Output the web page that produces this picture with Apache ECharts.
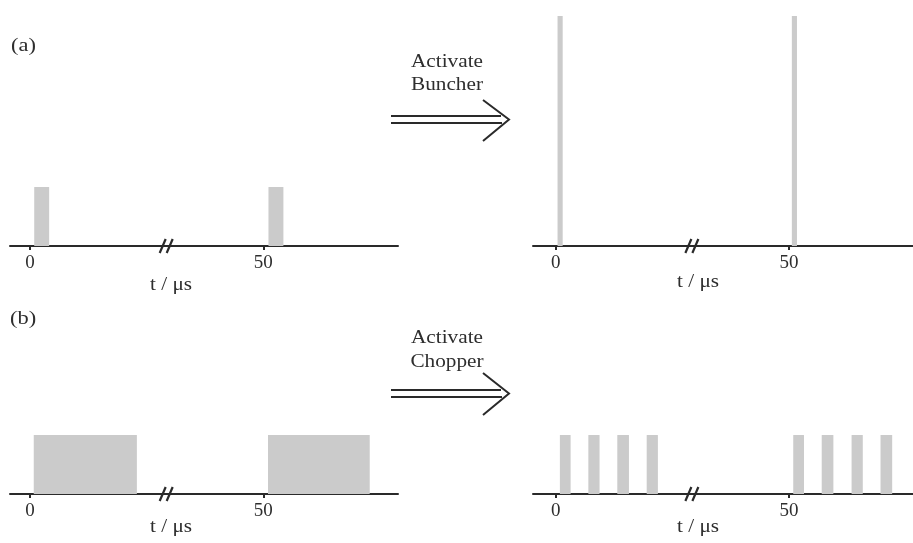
<!DOCTYPE html>
<html>
<head>
<meta charset="utf-8">
<script src="https://cdn.jsdelivr.net/npm/echarts@6/dist/echarts.min.js"></script>
<style>
html,body{margin:0;padding:0;background:#fff;}
#chart{width:913px;height:543px;}
</style>
</head>
<body>
<div id="chart"></div>
<script>
// ---- data ----
// pulses: [start time (µs), end time (µs), relative intensity]
const pulsesA_before = [[0.9, 4.1, 1.0], [51.1, 54.3, 1.0]];
const pulsesA_after  = [[0.4, 1.5, 3.9], [50.6, 51.7, 3.9]];
const pulsesB_before = [[0.8, 22.9, 1.0], [51.0, 72.8, 1.0]];
const pulsesB_after  = [[0.9, 3.2, 1.0], [7.0, 9.4, 1.0], [13.2, 15.7, 1.0], [19.5, 21.9, 1.0],
                        [50.9, 53.2, 1.0], [57.0, 59.5, 1.0], [63.4, 65.8, 1.0], [69.6, 72.1, 1.0]];
const tickValues = [0, 50];
const tickLabels = ['0', '50'];
const axisBreakAt = [29.5];
const axisTitle = 't / μs';
const panelLabels = ['(a)', '(b)'];
const actionLabels = [['Activate', 'Buncher'], ['Activate', 'Chopper']];

// ---- layout ----
const FONT = 'Liberation Serif, Times New Roman, serif';
const TXT = '#2e2e2e';
const AX = '#2a2a2a';
const BAR = '#cbcbcb';
const SX = 1.18;

const grids = [
  {left: 10,  width: 388, top: 16,  height: 230, xmin: -4.29, xmax: 78.86},
  {left: 533, width: 380, top: 16,  height: 230, xmin: -4.86, xmax: 76.56},
  {left: 10,  width: 388, top: 264, height: 230, xmin: -4.29, xmax: 78.86},
  {left: 533, width: 380, top: 264, height: 230, xmin: -4.86, xmax: 76.56}
];
const panelData = [pulsesA_before, pulsesA_after, pulsesB_before, pulsesB_after];

function pulseItem(params, api) {
  const p0 = api.coord([api.value(0), api.value(2)]);
  const p1 = api.coord([api.value(1), 0]);
  return {
    type: 'rect',
    shape: {x: p0[0], y: p0[1], width: p1[0] - p0[0], height: p1[1] - p0[1]},
    style: {fill: BAR}
  };
}
function breakItem(params, api) {
  const p = api.coord([api.value(0), 0]);
  const x = p[0], y = p[1];
  return {
    type: 'group',
    children: [
      {type: 'line', shape: {x1: x - 8, y1: y + 7, x2: x - 2, y2: y - 7}, style: {stroke: AX, lineWidth: 2.2}},
      {type: 'line', shape: {x1: x - 1, y1: y + 7, x2: x + 5, y2: y - 7}, style: {stroke: AX, lineWidth: 2.2}}
    ]
  };
}

function txt(text, x, y, size, align) {
  return {type: 'text', x: x, y: y, scaleX: SX,
    style: {text: text, font: size + 'px ' + FONT, fill: TXT, align: align || 'center', verticalAlign: 'middle'}};
}

const option = {
  backgroundColor: '#fff',
  animation: false,
  grid: grids.map(g => ({left: g.left, width: g.width, top: g.top, height: g.height, containLabel: false})),
  xAxis: grids.map((g, i) => ({
    gridIndex: i, type: 'value', min: g.xmin, max: g.xmax,
    splitLine: {show: false},
    axisLine: {show: true, onZero: true, lineStyle: {color: AX, width: 2}},
    axisTick: {show: true, customValues: tickValues, length: 4, inside: false, lineStyle: {color: AX, width: 2}},
    axisLabel: {
      show: true, customValues: tickValues, margin: 8,
      fontFamily: FONT, fontSize: 19, color: TXT,
      formatter: v => tickLabels[tickValues.indexOf(v)]
    }
  })),
  yAxis: grids.map((g, i) => ({gridIndex: i, type: 'value', min: 0, max: 3.9, show: false})),
  series: [].concat(
    panelData.map((d, i) => ({
      type: 'custom', xAxisIndex: i, yAxisIndex: i, renderItem: pulseItem,
      encode: {x: [0, 1], y: 2}, data: d, z: 2
    })),
    grids.map((g, i) => ({
      type: 'custom', xAxisIndex: i, yAxisIndex: i, renderItem: breakItem,
      encode: {x: 0}, data: axisBreakAt.map(v => [v]), z: 3
    }))
  ),
  graphic: [
    txt(panelLabels[0], 11, 46, 19, 'left'),
    txt(panelLabels[1], 10, 319, 19, 'left'),
    txt(axisTitle, 171, 285, 18),
    txt(axisTitle, 698, 282, 18),
    txt(axisTitle, 171, 527, 18),
    txt(axisTitle, 698, 527, 18),
    txt(actionLabels[0][0], 447, 62, 18),
    txt(actionLabels[0][1], 447, 85, 18),
    txt(actionLabels[1][0], 447, 338, 18),
    txt(actionLabels[1][1], 447, 362, 18),
    // arrows
    {type: 'line', shape: {x1: 391, y1: 116, x2: 501, y2: 116}, style: {stroke: AX, lineWidth: 2}},
    {type: 'line', shape: {x1: 391, y1: 123, x2: 502, y2: 123}, style: {stroke: AX, lineWidth: 2}},
    {type: 'polyline', shape: {points: [[483, 100], [509, 119.5], [483, 141]]}, style: {stroke: AX, lineWidth: 2, fill: null}},
    {type: 'line', shape: {x1: 391, y1: 390, x2: 501, y2: 390}, style: {stroke: AX, lineWidth: 2}},
    {type: 'line', shape: {x1: 391, y1: 397, x2: 502, y2: 397}, style: {stroke: AX, lineWidth: 2}},
    {type: 'polyline', shape: {points: [[483, 373], [509, 393.5], [483, 415]]}, style: {stroke: AX, lineWidth: 2, fill: null}}
  ]
};

const chart = echarts.init(document.getElementById('chart'), null, {renderer: 'canvas'});
chart.setOption(option);
</script>
</body>
</html>
